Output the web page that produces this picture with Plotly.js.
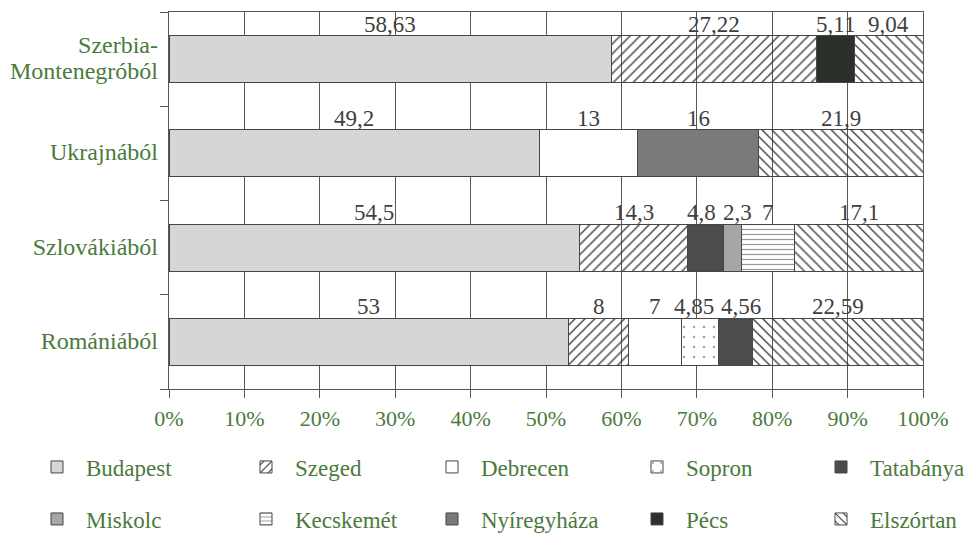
<!DOCTYPE html>
<html>
<head>
<meta charset="utf-8">
<script src="https://cdn.plot.ly/plotly-3.0.1.min.js"></script>
<style>html,body{margin:0;padding:0;background:#fff;}#chart{width:969px;height:534px;}</style>
</head>
<body>
<div id="chart"></div>
<script>
// Categories bottom -> top
const categories = ['Romániából', 'Szlovákiából', 'Ukrajnából', 'Szerbia-Montenegróból'];
const categoryLabels = ['Romániából', 'Szlovákiából', 'Ukrajnából', 'Szerbia-|Montenegróból'];

// Series values (percent), in category order
const budapest    = [53, 54.5, 49.2, 58.63];
const szeged      = [8, 14.3, null, 27.22];
const debrecen    = [7, null, 13, null];
const sopron      = [4.85, null, null, null];
const tatabanya   = [4.56, 4.8, null, null];
const miskolc     = [null, 2.3, null, null];
const kecskemet   = [null, 7, null, null];
const nyiregyhaza = [null, null, 16, null];
const pecs        = [null, null, null, 5.11];
const elszortan   = [22.59, 17.1, 21.9, 9.04];

const seriesNames = ['Budapest', 'Szeged', 'Debrecen', 'Sopron', 'Tatabánya',
                     'Miskolc', 'Kecskemét', 'Nyíregyháza', 'Pécs', 'Elszórtan'];
const seriesValues = [budapest, szeged, debrecen, sopron, tatabanya,
                      miskolc, kecskemet, nyiregyhaza, pecs, elszortan];

const xTickVals = [0, 10, 20, 30, 40, 50, 60, 70, 80, 90, 100];
const xTickText = ['0%', '10%', '20%', '30%', '40%', '50%', '60%', '70%', '80%', '90%', '100%'];

const FONT = 'Liberation Serif, Times New Roman, serif';
const GREEN = '#4b7a3d';
const LINE = '#555a52';
const EDGE = '#464646';
const CLEAR = 'rgba(255,255,255,0)';
const W = 969, H = 534;
const M = {l: 169, r: 46, t: 12, b: 145};
const LABEL_SIZE = 23;

const styles = [
  {color: '#d6d6d6'},
  {color: CLEAR, pattern: {shape: '/', fgcolor: '#333333', bgcolor: CLEAR, size: 7, solidity: 0.18}},
  {color: '#ffffff'},
  {color: '#ffffff', pattern: {shape: '.', fgcolor: '#444444', bgcolor: '#ffffff', size: 10, solidity: 0.05, fillmode: 'overlay'}},
  {color: '#4c4c4c'},
  {color: '#a6a6a6'},
  {color: '#ffffff', pattern: {shape: '-', fgcolor: '#333333', bgcolor: '#ffffff', size: 5, solidity: 0.24, fillmode: 'overlay'}},
  {color: '#7a7a7a'},
  {color: '#2b302b'},
  {color: CLEAR, pattern: {shape: '\\', fgcolor: '#333333', bgcolor: CLEAR, size: 7, solidity: 0.18}}
];

const legendIds = seriesNames.map((n, i) => i === 0 ? 'legend' : 'legend' + (i + 1));

const traces = seriesNames.map((name, i) => {
  const st = styles[i];
  const marker = {color: st.color, line: {color: EDGE, width: 1}};
  if (st.pattern) marker.pattern = st.pattern;
  return {
    type: 'bar', orientation: 'h', name: name,
    x: seriesValues[i], y: categories,
    width: 0.5, marker: marker,
    legend: legendIds[i],
    hoverinfo: 'x+name'
  };
});

// Value labels above each segment, pushed apart where they would collide
const pxPerUnit = (W - M.l - M.r) / 100;
const textWidth = (s) => {
  let w = 0;
  for (const ch of s) w += (ch === ',' ? 0.25 : 0.5);
  return w * LABEL_SIZE;
};
const annotations = [];
categories.forEach((cat, c) => {
  let cumv = 0;
  const items = [];
  seriesValues.forEach((vals) => {
    const v = vals[c];
    if (v === null || v === undefined) return;
    const text = String(v).replace('.', ',');
    items.push({x: cumv + v / 2, text: text, w: textWidth(text), shift: 0});
    cumv += v;
  });
  const gap = 7;
  for (let iter = 0; iter < 50; iter++) {
    let moved = false;
    for (let k = 0; k < items.length - 1; k++) {
      const a = items[k], b = items[k + 1];
      const ar = a.x * pxPerUnit + a.shift + a.w / 2;
      const bl = b.x * pxPerUnit + b.shift - b.w / 2;
      const overlap = ar + gap - bl;
      if (overlap > 0.5) {
        a.shift -= overlap / 2;
        b.shift += overlap / 2;
        moved = true;
      }
    }
    if (!moved) break;
  }
  items.forEach((it) => {
    annotations.push({
      x: it.x, y: cat, xref: 'x', yref: 'y',
      text: it.text, showarrow: false,
      xshift: it.shift, yshift: 35,
      font: {family: FONT, size: LABEL_SIZE, color: '#3f3f3f'}
    });
  });
});

// Legend: 2 rows x 5 columns, one legend per entry
const legendColX = [48, 257, 443, 648, 832];
const legendRowY = [467, 519];

const layout = {
  width: W, height: H,
  margin: M,
  paper_bgcolor: '#ffffff', plot_bgcolor: '#ffffff',
  barmode: 'stack', showlegend: true,
  font: {family: FONT, color: GREEN},
  xaxis: {
    range: [0, 100], tickvals: xTickVals, ticktext: xTickText,
    showgrid: true, gridcolor: LINE, gridwidth: 1,
    showline: true, linecolor: LINE, linewidth: 1, mirror: true,
    ticks: 'outside', ticklen: 8, tickcolor: LINE,
    tickfont: {family: FONT, size: 22, color: GREEN},
    ticklabelstandoff: 2,
    zeroline: false, fixedrange: true
  },
  yaxis: {
    type: 'category', categoryorder: 'array', categoryarray: categories,
    tickvals: categories,
    ticktext: categoryLabels.map(l => l.split('|').map(p => '<span style="font-size:24px">' + p + '</span>').join('<br>')),
    range: [-0.5, 3.5],
    showline: true, linecolor: LINE, linewidth: 1, mirror: true,
    ticks: 'outside', ticklen: 8, tickcolor: LINE, tickson: 'boundaries',
    ticklabelstandoff: 6,
    showgrid: false,
    tickfont: {family: FONT, size: 20, color: GREEN},
    fixedrange: true
  },
  annotations: annotations
};

legendIds.forEach((id, i) => {
  const col = i % 5, row = Math.floor(i / 5);
  layout[id] = {
    orientation: 'h', xref: 'container', yref: 'container',
    xanchor: 'left', yanchor: 'middle',
    x: (legendColX[col] - 20) / W, y: 1 - legendRowY[row] / H,
    font: {family: FONT, size: 23, color: GREEN},
    itemwidth: 48,
    bgcolor: 'rgba(0,0,0,0)', itemclick: false
  };
});

Plotly.newPlot('chart', traces, layout, {staticPlot: true, displayModeBar: false});
</script>
</body>
</html>
